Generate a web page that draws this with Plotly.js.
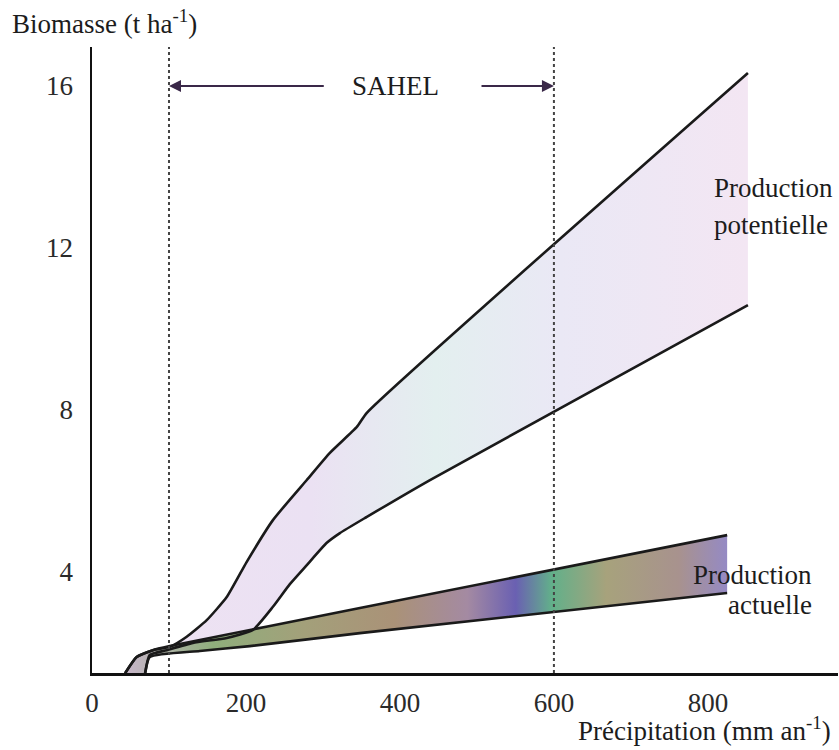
<!DOCTYPE html>
<html>
<head>
<meta charset="utf-8">
<script src="https://cdn.plot.ly/plotly-3.0.1.min.js"></script>
<style>html,body{margin:0;padding:0;background:#fff;}#chart{width:839px;height:750px;}</style>
</head>
<body>
<div id="chart"></div>
<script>
// Precipitation (mm/an) and biomass (t/ha)
const potUpperX = [43, 58, 79, 101, 123, 149, 175, 201, 235, 279, 309, 344, 357, 852];
const potUpperY = [1.5, 1.9, 2.07, 2.15, 2.4, 2.81, 3.38, 4.25, 5.28, 6.27, 6.94, 7.58, 7.93, 16.32];
const potLowerX = [69, 75, 97, 131, 175, 209, 235, 257, 279, 305, 322, 357, 439, 852];
const potLowerY = [1.5, 1.95, 2.07, 2.25, 2.37, 2.57, 3.14, 3.7, 4.17, 4.72, 4.96, 5.36, 6.27, 10.59];
const actUpperX = [43, 58, 79, 101, 348, 825];
const actUpperY = [1.5, 1.9, 2.07, 2.17, 3.11, 4.91];
const actLowerX = [69, 75, 140, 205, 348, 825];
const actLowerY = [1.5, 1.9, 2.05, 2.17, 2.49, 3.48];
const sahelBounds = [100, 600];
const xTicks = [0, 200, 400, 600, 800];
const yTicks = [4, 8, 12, 16];

const font = '"Liberation Serif", "Times New Roman", serif';
const ink = '#1a1a1a';
const txt = '#1c1c1c';
const fs = 27;

const lineSpec = {color: ink, width: 2.6, shape: 'spline', smoothing: 0.5};

const traces = [
  // potential band fill
  {x: potLowerX, y: potLowerY, mode: 'lines', line: {width: 0, shape: 'spline', smoothing: 0.5}, hoverinfo: 'skip', showlegend: false},
  {x: potUpperX, y: potUpperY, mode: 'lines', line: {width: 0, shape: 'spline', smoothing: 0.5}, fill: 'tonexty',
   fillgradient: {type: 'horizontal', start: 40, stop: 852,
     colorscale: [[0, '#eee2f2'], [0.3, '#ebe1f3'], [0.5, '#e3efef'], [0.7, '#eae8f5'], [1, '#f3e6f3']]},
   hoverinfo: 'skip', showlegend: false},
  // actual band fill
  {x: actLowerX, y: actLowerY, mode: 'lines', line: {width: 0, shape: 'spline', smoothing: 0.5}, hoverinfo: 'skip', showlegend: false},
  {x: actUpperX, y: actUpperY, mode: 'lines', line: {width: 0, shape: 'spline', smoothing: 0.5}, fill: 'tonexty',
   fillgradient: {type: 'horizontal', start: 40, stop: 825,
     colorscale: [[0, '#c9b6cc'], [0.15, '#8fae7c'], [0.3, '#a3a07a'], [0.45, '#aa9278'],
                  [0.57, '#a48aa2'], [0.65, '#6a60b2'], [0.71, '#62b08a'], [0.8, '#a7a27c'],
                  [0.92, '#a8928e'], [1, '#958ac4']]},
   hoverinfo: 'skip', showlegend: false},
  // outlines
  {x: potUpperX, y: potUpperY, mode: 'lines', line: lineSpec, hoverinfo: 'skip', showlegend: false},
  {x: potLowerX, y: potLowerY, mode: 'lines', line: lineSpec, hoverinfo: 'skip', showlegend: false},
  {x: actUpperX, y: actUpperY, mode: 'lines', line: lineSpec, hoverinfo: 'skip', showlegend: false},
  {x: actLowerX, y: actLowerY, mode: 'lines', line: lineSpec, hoverinfo: 'skip', showlegend: false}
];

const layout = {
  width: 839, height: 750,
  margin: {l: 92, r: 1, t: 47, b: 77},
  paper_bgcolor: '#fff', plot_bgcolor: '#fff',
  showlegend: false,
  font: {family: font, size: fs, color: txt},
  xaxis: {
    range: [0, 969], showgrid: false, zeroline: false,
    showline: true, linecolor: '#111', linewidth: 2.5,
    tickvals: xTicks, ticks: '', ticklabelstandoff: 4,
    tickfont: {family: font, size: fs, color: '#2a2a2a'}
  },
  yaxis: {
    range: [1.506, 16.96], showgrid: false, zeroline: false,
    showline: true, linecolor: '#111', linewidth: 2.5,
    tickvals: yTicks, ticks: '', ticklabelstandoff: 11,
    tickfont: {family: font, size: fs, color: '#2a2a2a'}
  },
  shapes: sahelBounds.map(v => ({
    type: 'line', xref: 'x', yref: 'paper', x0: v, x1: v, y0: 0, y1: 1,
    line: {color: '#444', width: 2, dash: 'dot'}
  })),
  annotations: [
    {xref: 'x', yref: 'y', x: sahelBounds[0], y: 16, axref: 'x', ayref: 'y', ax: 303, ay: 16,
     showarrow: true, arrowhead: 2, arrowsize: 1.2, arrowwidth: 2, arrowcolor: '#3a2848', text: ''},
    {xref: 'x', yref: 'y', x: sahelBounds[1], y: 16, axref: 'x', ayref: 'y', ax: 504, ay: 16,
     showarrow: true, arrowhead: 2, arrowsize: 1.2, arrowwidth: 2, arrowcolor: '#3a2848', text: ''},
    {xref: 'x', yref: 'y', x: 394, y: 16, text: 'SAHEL', showarrow: false,
     font: {family: font, size: fs, color: txt}},
    {xref: 'paper', yref: 'paper', x: (712 - 92)/746, y: 1 - (188 - 47) / 626, xanchor: 'left', yanchor: 'middle',
     text: 'Production', showarrow: false, font: {family: font, size: fs, color: txt}},
    {xref: 'paper', yref: 'paper', x: (712 - 92)/746, y: 1 - (225 - 47) / 626, xanchor: 'left', yanchor: 'middle',
     text: 'potentielle', showarrow: false, font: {family: font, size: fs, color: txt}},
    {xref: 'paper', yref: 'paper', x: (814 - 92)/746, y: 1 - (575 - 47) / 626, xanchor: 'right', yanchor: 'middle',
     text: 'Production', showarrow: false, font: {family: font, size: fs, color: txt}},
    {xref: 'paper', yref: 'paper', x: (814 - 92)/746, y: 1 - (605 - 47) / 626, xanchor: 'right', yanchor: 'middle',
     text: 'actuelle', showarrow: false, font: {family: font, size: fs, color: txt}},
    {xref: 'paper', yref: 'paper', x: (833 - 92)/746, y: 1 - (729 - 47) / 626, xanchor: 'right', yanchor: 'middle',
     text: 'Précipitation (mm an<sup>-1</sup>)', showarrow: false, font: {family: font, size: fs, color: txt}},
    {xref: 'paper', yref: 'paper', x: (10 - 92)/746, y: 1 - (22 - 47) / 626, xanchor: 'left', yanchor: 'middle',
     text: 'Biomasse (t ha<sup>-1</sup>)', showarrow: false, font: {family: font, size: fs, color: txt}}
  ]
};

Plotly.newPlot('chart', traces, layout, {displayModeBar: false, staticPlot: true});
</script>
</body>
</html>
